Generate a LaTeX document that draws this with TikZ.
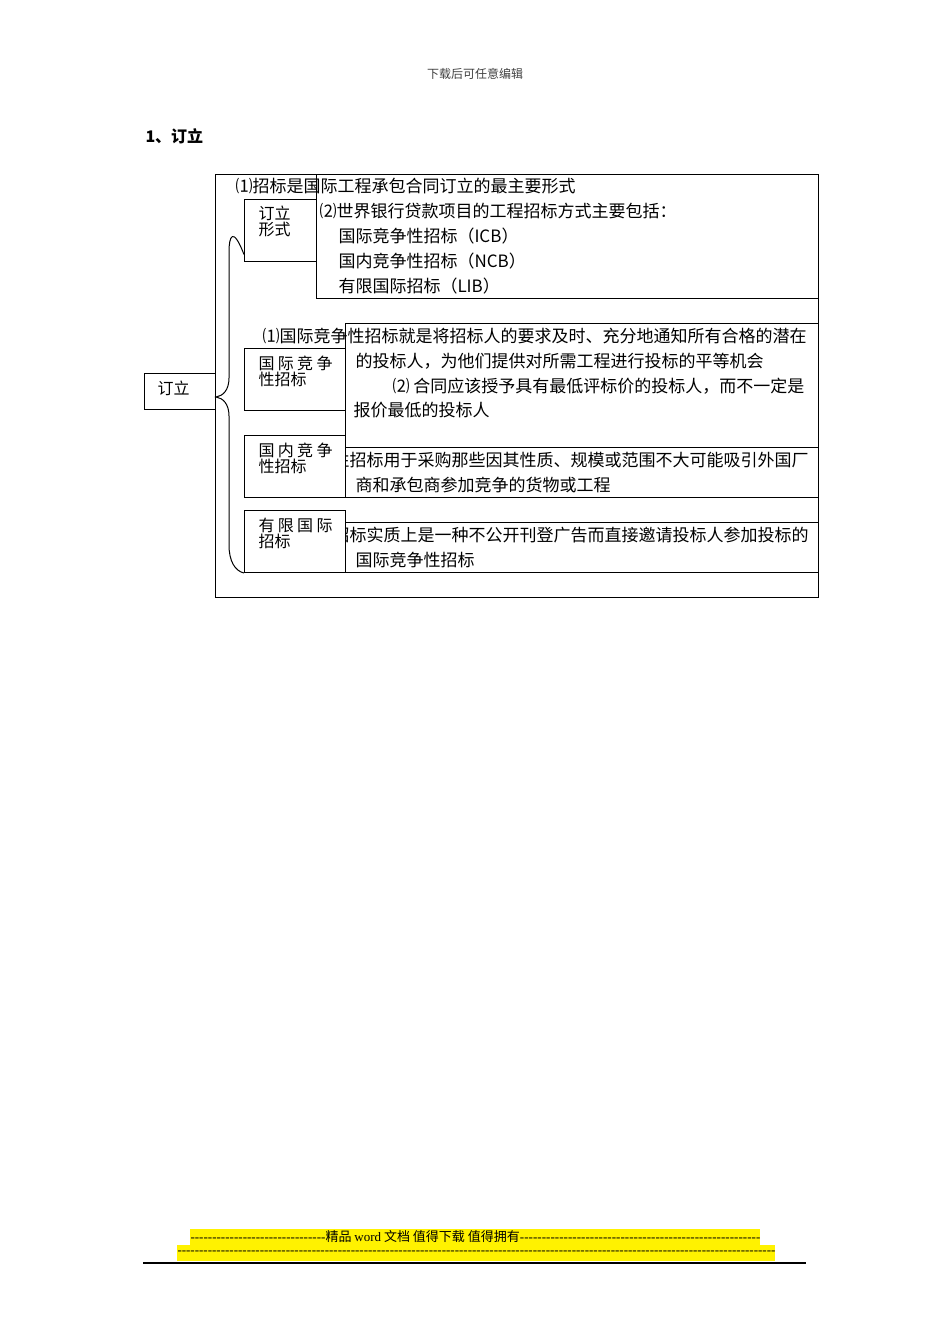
\documentclass[tikz,border=0pt]{standalone}
\usepackage{fontspec}
\setmainfont{Noto Sans CJK SC}
\newfontfamily\lat{Liberation Serif}
\begin{document}
\begin{tikzpicture}[x=1pt,y=-1pt,line width=1pt,
  txt/.style={anchor=west,inner sep=0pt,font=\fontsize{17}{17}\selectfont},
  lab/.style={anchor=west,inner sep=0pt,font=\fontsize{16}{16}\selectfont},
  box/.style={draw,line width=1pt,inner sep=0pt,anchor=north west},
  wbox/.style={box,fill=white}]
\useasboundingbox (0,0) rectangle (950,1344);
% header
\node[font=\fontsize{12}{12}\selectfont,text=black!75] (hdr) at (475,74) {下载后可任意编辑};
\node[anchor=west,inner sep=0pt,font=\bfseries\fontsize{16}{16}\selectfont] (title) at (145,136) {1、订立};
% outer box
\node[box,minimum width=603pt,minimum height=423pt] (outer) at (215,174) {};
% section A
\node[box,minimum width=502pt,minimum height=124pt] (boxA) at (316,174) {};
\node[box,minimum width=72pt,minimum height=62pt] (labA) at (244,199) {};
\node[lab] (labA1) at (258,213) {订立};
\node[lab] (labA2) at (258,229) {形式};
\node[txt] (tA1) at (235,186) {⑴招标是国际工程承包合同订立的最主要形式};
\node[txt] (tA2) at (319,211) {⑵世界银行贷款项目的工程招标方式主要包括：};
\node[txt] (tA3) at (338,236) {国际竞争性招标（ICB）};
\node[txt] (tA4) at (338,261) {国内竞争性招标（NCB）};
\node[txt] (tA5) at (338,286) {有限国际招标（LIB）};
% root
\node[box,minimum width=71pt,minimum height=36pt] (root) at (144,373) {};
\node[lab] (rootT) at (157,388) {订立};
% section B
\node[box,minimum width=473pt,minimum height=124pt] (boxB) at (345,323) {};
\node[box,minimum width=101pt,minimum height=62pt] (labB) at (244,348) {};
\node[lab] (labB1) at (258,363) {\makebox[74pt][s]{国\hfill 际\hfill 竞\hfill 争}};
\node[lab] (labB2) at (258,379) {性招标};
\node[txt] (tB1) at (262,336) {⑴国际竞争性招标就是将招标人的要求及时、充分地通知所有合格的潜在};
\node[txt] (tB2) at (355,361) {的投标人，为他们提供对所需工程进行投标的平等机会};
\node[txt] (tB3) at (392,386) {⑵ 合同应该授予具有最低评标价的投标人，而不一定是};
\node[txt] (tB4) at (353,410) {报价最低的投标人};
% section C
\node[box,minimum width=473pt,minimum height=50pt] (boxC) at (345,447) {};
\node[txt] (tC1) at (332,460) {性招标用于采购那些因其性质、规模或范围不大可能吸引外国厂};
\node[txt] (tC2) at (355,485) {商和承包商参加竞争的货物或工程};
\node[wbox,minimum width=101pt,minimum height=62pt] (labC) at (244,435) {};
\node[lab] (labC1) at (258,450) {\makebox[74pt][s]{国\hfill 内\hfill 竞\hfill 争}};
\node[lab] (labC2) at (258,466) {性招标};
% section D
\node[box,minimum width=473pt,minimum height=50pt] (boxD) at (345,522) {};
\node[txt] (tD1) at (332,535) {招标实质上是一种不公开刊登广告而直接邀请投标人参加投标的};
\node[txt] (tD2) at (355,560) {国际竞争性招标};
\node[wbox,minimum width=101pt,minimum height=62pt] (labD) at (244,510) {};
\node[lab] (labD1) at (258,525) {\makebox[74pt][s]{有\hfill 限\hfill 国\hfill 际}};
\node[lab] (labD2) at (258,541) {招标};
% brace
\coordinate (cusp) at (216,397);
\draw ([yshift=-24pt]labA.west) .. controls (233,226) and (229,236) .. (229,252)
  -- (229,378) .. controls (229,390) and (223,396) .. (cusp)
  .. controls (223,398) and (229,404) .. (229,416)
  -- (229,545) .. controls (229,561) and (235,571) .. (labD.south west);
% footer
\fill[yellow] (190,1229) rectangle (760,1245);
\fill[yellow] (177,1245) rectangle (775,1261);
\node[anchor=west,inner sep=0pt,font=\fontsize{13}{13}\selectfont] (f1) at (190,1237)
  {\hbox to 570pt{\hbox to 135pt{\lat\xleaders\hbox{-}\hfill}精品 {\lat word} 文档 值得下载 值得拥有{\lat\xleaders\hbox{-}\hfill}}};
\node[anchor=west,inner sep=0pt,font=\fontsize{13}{13}\selectfont] (f2) at (177,1253)
  {\hbox to 598pt{\lat\xleaders\hbox{-}\hfill}};
\draw[line width=1.5pt] (143,1263) -- (806,1263);
\end{tikzpicture}
\end{document}
